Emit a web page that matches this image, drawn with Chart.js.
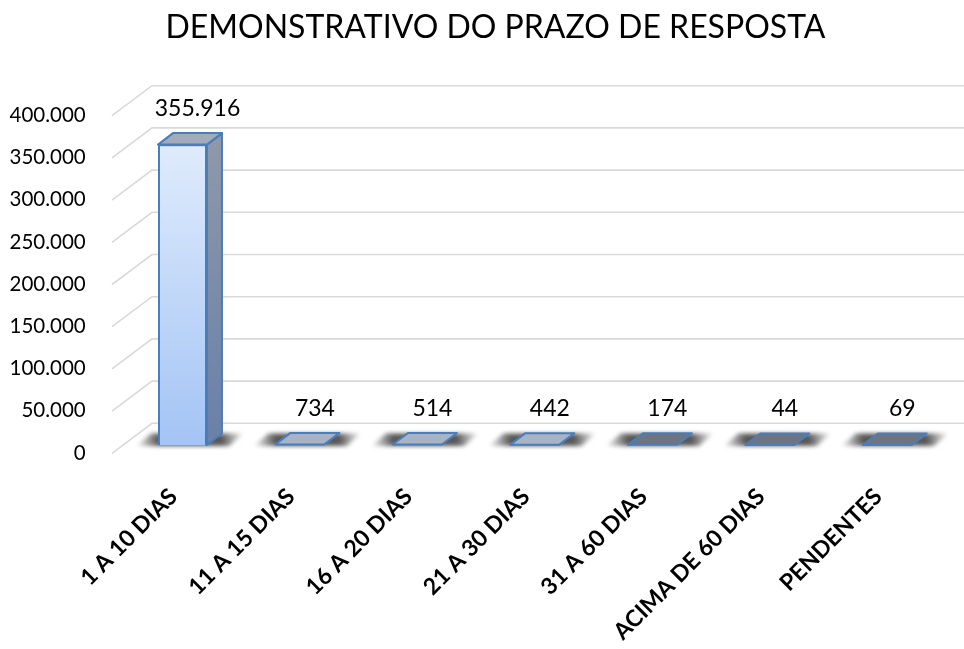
<!DOCTYPE html>
<html>
<head>
<meta charset="utf-8">
<script src="https://cdn.jsdelivr.net/npm/chart.js@4.4.1/dist/chart.umd.min.js"></script>
<style>
  html, body { margin: 0; padding: 0; background: #fff; }
  #wrap { position: relative; width: 964px; height: 649px; }
  #title {
    position: absolute; left: 0; top: 6px; width: 991px;
    text-align: center; font-family: Lato, sans-serif; font-size: 32px; color: #000;
  }
  #prazoChart { position: absolute; left: 0; top: 0; }
</style>
</head>
<body>
<div id="wrap">
  <canvas id="prazoChart" width="964" height="649"></canvas>
  <div id="title"></div>
</div>
<script>
const chartTitle = "DEMONSTRATIVO DO PRAZO DE RESPOSTA";
const categories = ["1 A 10 DIAS", "11 A 15 DIAS", "16 A 20 DIAS", "21 A 30 DIAS", "31 A 60 DIAS", "ACIMA DE 60 DIAS", "PENDENTES"];
const values = [355916, 734, 514, 442, 174, 44, 69];
const yMin = 0;
const yMax = 400000;
const yStep = 50000;

// 3d look: wall depth and bar depth (pixels)
const WALL_FRONT = { dx: -11.75, dy: 8.3 };
const WALL_BACK = { dx: 28.25, dy: -21.7 };
const BAR_D = { dx: 15, dy: -11.5 };
const EDGE = "#4a7ebb";
const topFaceColors = ["#a3abba", "#a9b3c6", "#a9b3c6", "#a9b3c6", "#6e7480", "#6e7480", "#6e7480"];

document.getElementById("title").textContent = chartTitle;

const fmt = (v) => String(v).replace(/\B(?=(\d{3})+(?!\d))/g, ".");

function poly(c, pts) {
  c.beginPath();
  c.moveTo(pts[0][0], pts[0][1]);
  for (let i = 1; i < pts.length; i++) c.lineTo(pts[i][0], pts[i][1]);
  c.closePath();
}

const wall3d = {
  id: "wall3d",
  beforeDatasetsDraw(chart) {
    const c = chart.ctx;
    const y = chart.scales.y;
    const left = chart.chartArea.left;
    c.save();
    c.strokeStyle = "#d9d9d9";
    c.lineWidth = 1.6;
    y.ticks.forEach((t) => {
      const py = y.getPixelForValue(t.value);
      c.beginPath();
      c.moveTo(left + WALL_FRONT.dx, py + WALL_FRONT.dy);
      c.lineTo(left + WALL_BACK.dx, py + WALL_BACK.dy);
      c.lineTo(chart.width, py + WALL_BACK.dy);
      c.stroke();
    });
    // soft shadows under the bars
    const meta = chart.getDatasetMeta(0);
    meta.data.forEach((bar) => {
      const x0 = bar.x - bar.width / 2;
      const x1 = bar.x + bar.width / 2;
      const b = bar.base;
      const ext = 22;
      const total = x1 + BAR_D.dx + ext - (x0 - ext);
      const g = c.createLinearGradient(x0 - ext, 0, x1 + BAR_D.dx + ext, 0);
      g.addColorStop(0, "rgba(0,0,0,0)");
      g.addColorStop(ext / total, "rgba(0,0,0,0.65)");
      g.addColorStop(1 - ext / total, "rgba(0,0,0,0.65)");
      g.addColorStop(1, "rgba(0,0,0,0)");
      c.save();
      c.filter = "blur(2px)";
      c.fillStyle = g;
      poly(c, [[x0 - ext, b + 1], [x1 + ext, b + 1], [x1 + BAR_D.dx + ext, b + BAR_D.dy], [x0 + BAR_D.dx - ext, b + BAR_D.dy]]);
      c.fill();
      c.restore();
    });
    c.restore();
  },
  afterDatasetsDraw(chart) {
    const c = chart.ctx;
    const meta = chart.getDatasetMeta(0);
    c.save();
    c.lineJoin = "round";
    meta.data.forEach((bar, i) => {
      const x0 = bar.x - bar.width / 2;
      const x1 = bar.x + bar.width / 2;
      const top = bar.y;
      const b = bar.base;
      const { dx, dy } = BAR_D;
      // side face
      if (b - top > 1) {
        const sg = c.createLinearGradient(0, top + dy, 0, b);
        sg.addColorStop(0, "#8f99aa");
        sg.addColorStop(1, "#6980a8");
        c.fillStyle = sg;
        poly(c, [[x1, top], [x1 + dx, top + dy], [x1 + dx, b + dy], [x1, b]]);
        c.fill();
        c.strokeStyle = EDGE;
        c.lineWidth = 2;
        c.stroke();
      }
      // top face
      c.fillStyle = topFaceColors[i];
      poly(c, [[x0, top], [x0 + dx, top + dy], [x1 + dx, top + dy], [x1, top]]);
      c.fill();
      c.strokeStyle = EDGE;
      c.lineWidth = 2;
      c.stroke();
      // value label
      c.fillStyle = "#000";
      c.font = "23px Lato";
      c.textAlign = "center";
      c.textBaseline = "middle";
      c.fillText(fmt(values[i]), bar.x + dx, top - 36);
    });
    c.restore();
  },
};

Chart.defaults.font.family = "Lato";
Chart.defaults.color = "#000";

new Chart(document.getElementById("prazoChart"), {
  type: "bar",
  data: {
    labels: categories,
    datasets: [
      {
        data: values,
        backgroundColor: (ctx) => {
          const area = ctx.chart.chartArea;
          if (!area) return "#c4daf9";
          const g = ctx.chart.ctx.createLinearGradient(0, area.top, 0, area.bottom);
          g.addColorStop(0, "#e6f0fd");
          g.addColorStop(1, "#a4c4f5");
          return g;
        },
        borderColor: EDGE,
        borderWidth: 2,
        categoryPercentage: 1,
        barPercentage: 0.417,
      },
    ],
  },
  options: {
    responsive: false,
    animation: false,
    layout: { padding: { left: 0, right: 18, top: 107.4, bottom: 0 } },
    plugins: {
      legend: { display: false },
      tooltip: { enabled: false },
    },
    scales: {
      x: {
        grid: { display: false, drawTicks: false },
        border: { display: false },
        ticks: {
          autoSkip: false,
          minRotation: 45,
          maxRotation: 45,
          padding: 38,
          labelOffset: -9,
          font: { size: 23, weight: "bold" },
        },
        afterFit: (s) => { s.height = 204; },
      },
      y: {
        min: yMin,
        max: yMax,
        grid: { display: false, drawTicks: false },
        border: { display: false },
        ticks: {
          stepSize: yStep,
          labelOffset: 8,
          padding: 38,
          font: { size: 20.5 },
          callback: (v) => fmt(v),
        },
        afterFit: (s) => { s.width = 123.75; },
      },
    },
  },
  plugins: [wall3d],
});
</script>
</body>
</html>
